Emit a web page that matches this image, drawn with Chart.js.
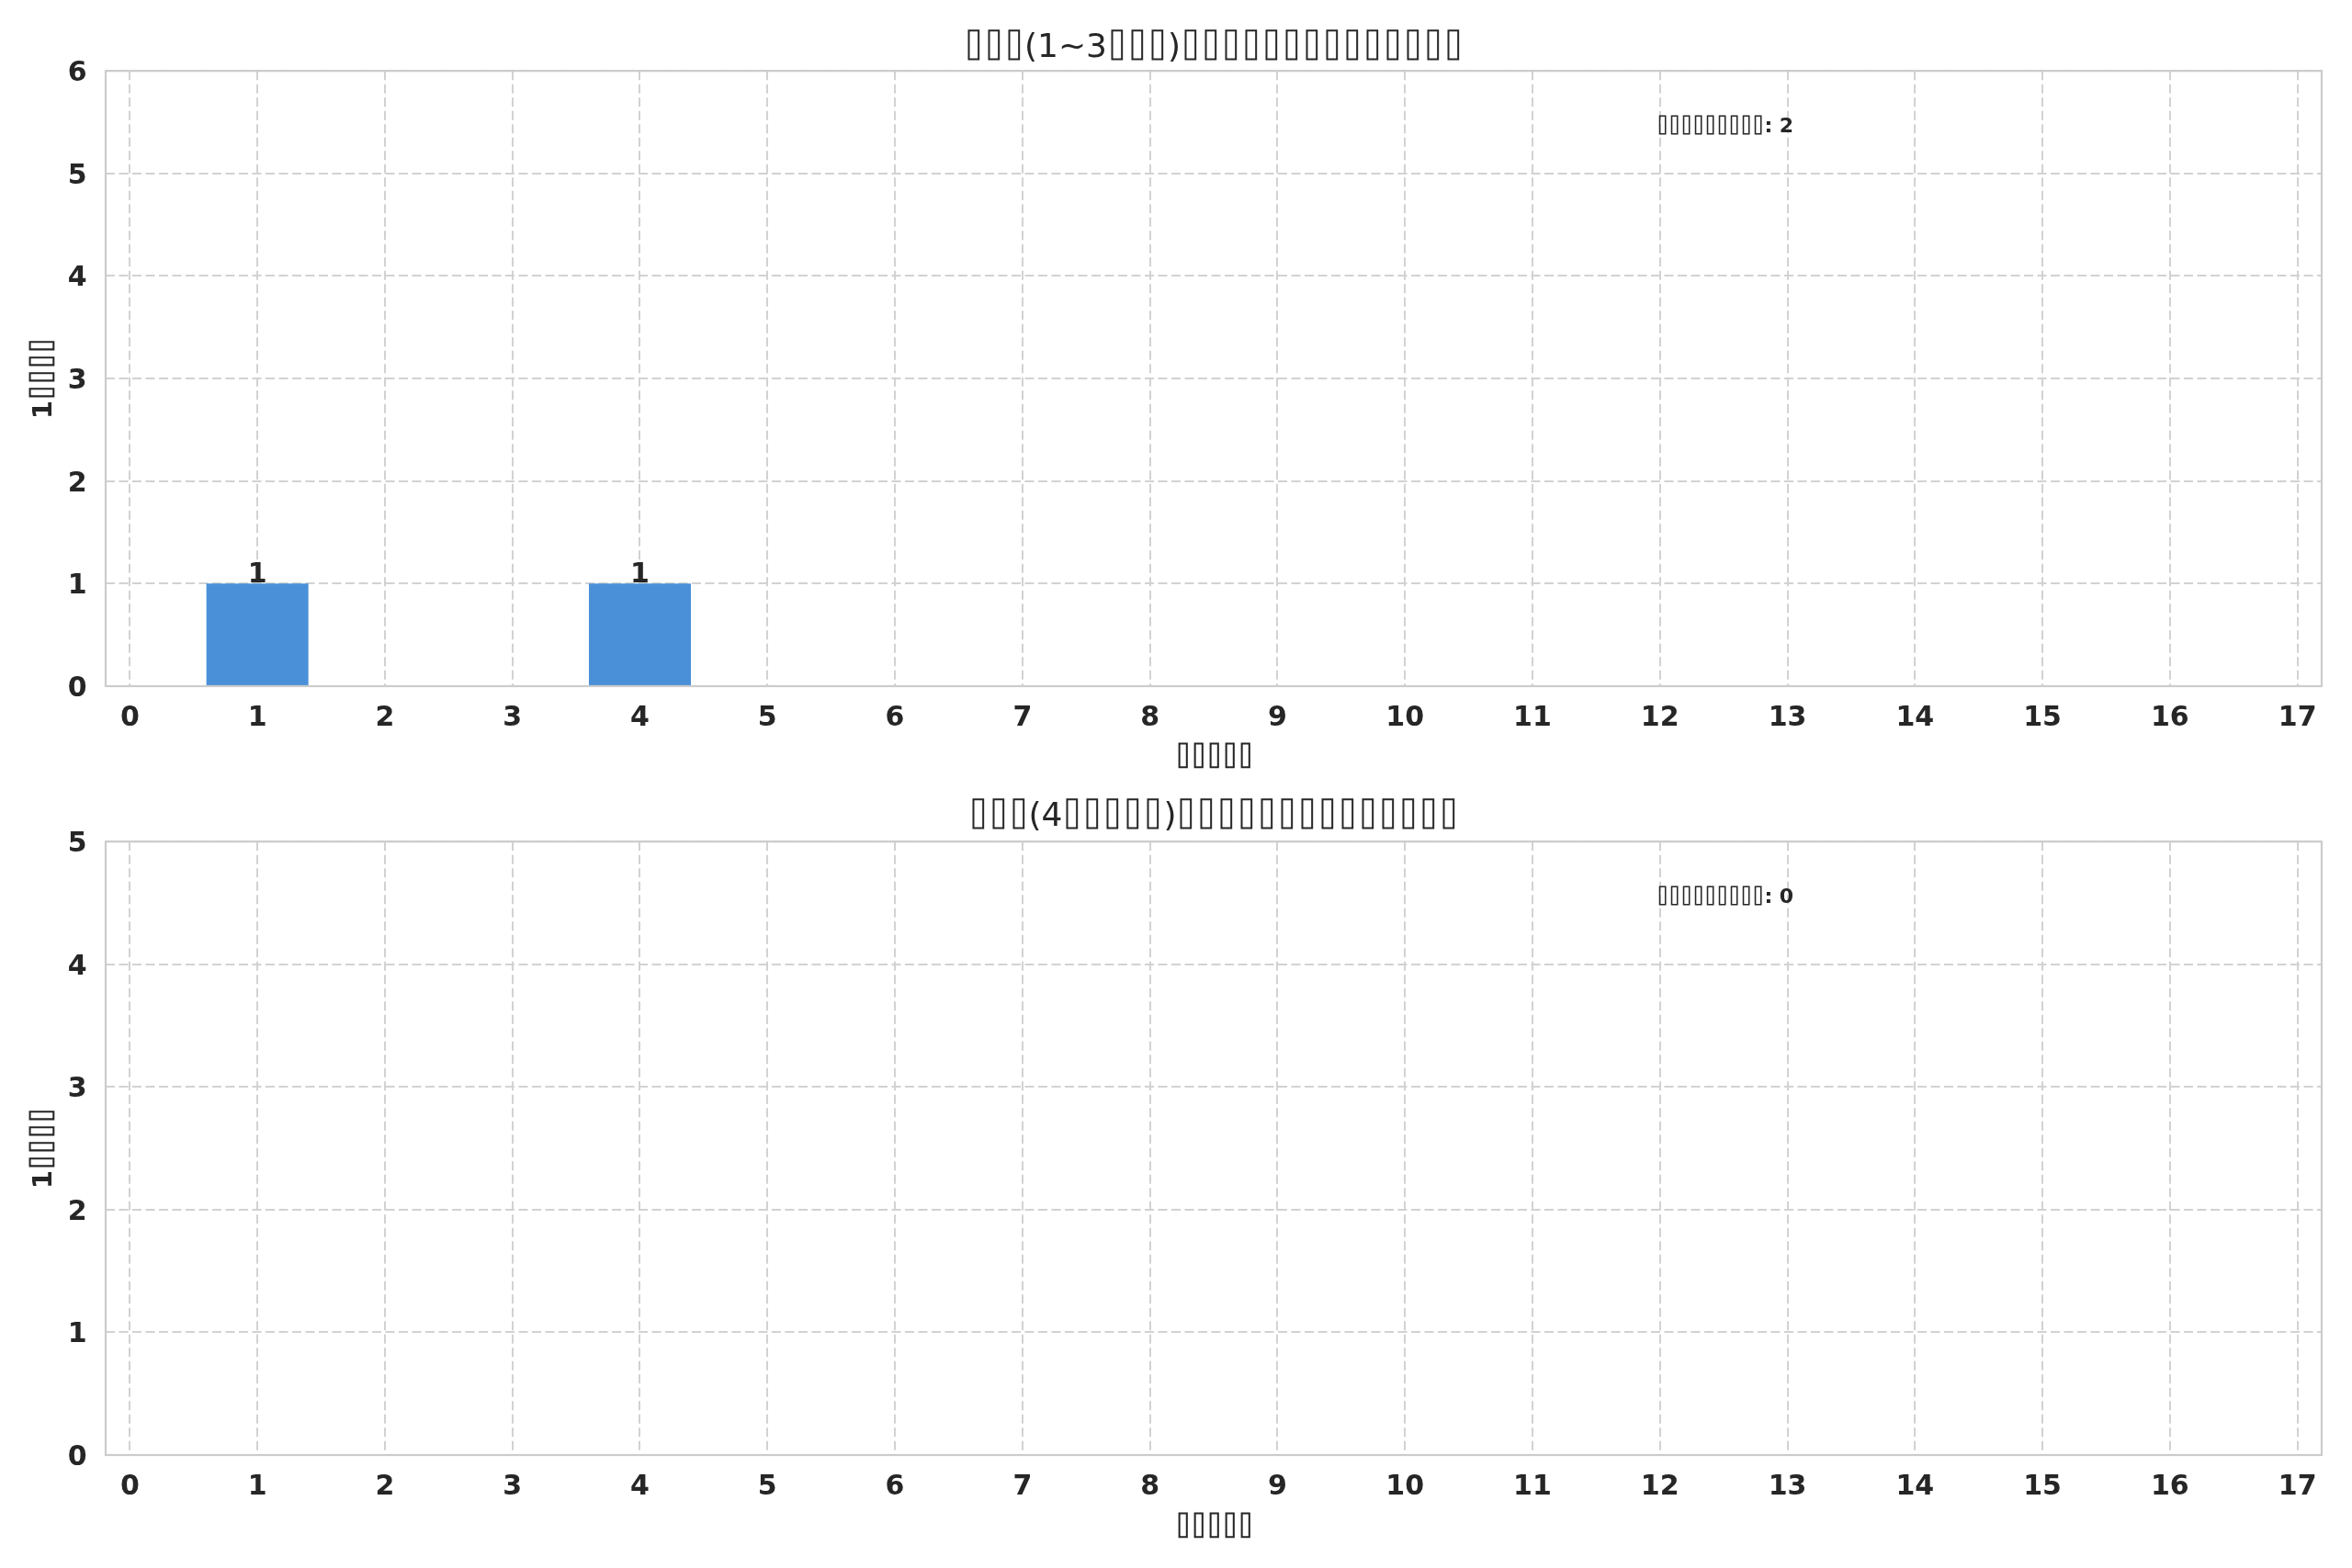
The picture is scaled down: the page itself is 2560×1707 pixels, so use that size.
<!DOCTYPE html>
<html>
<head>
<meta charset="utf-8">
<script src="https://cdn.jsdelivr.net/npm/chart.js@4.4.1/dist/chart.umd.min.js"></script>
<style>
  /* narrow box glyph, close to the missing-glyph boxes in the reference */
  @font-face { font-family: "TofuBox"; src: local("DejaVu Sans Mono"), local("DejaVuSansMono"); font-weight: normal; unicode-range: U+2337; }
  @font-face { font-family: "TofuBox"; src: local("DejaVu Sans Mono Bold"), local("DejaVuSansMono-Bold"); font-weight: bold; unicode-range: U+2337; }
  html, body { margin: 0; padding: 0; background: #ffffff; }
  #wrap { position: relative; width: 2560px; height: 1707px; }
  canvas { position: absolute; left: 0; }
</style>
</head>
<body>
<div id="wrap">
  <canvas id="chartTop" width="2560" height="854" style="top:0"></canvas>
  <canvas id="chartBottom" width="2560" height="853" style="top:854px"></canvas>
</div>
<script>
// values (the original CJK text renders as missing-glyph boxes)
const xTicks = [0, 1, 2, 3, 4, 5, 6, 7, 8, 9, 10, 11, 12, 13, 14, 15, 16, 17];
const lowerCounts = [0, 1, 0, 0, 1, 0, 0, 0, 0, 0, 0, 0, 0, 0, 0, 0, 0, 0];
const upperCounts = [0, 0, 0, 0, 0, 0, 0, 0, 0, 0, 0, 0, 0, 0, 0, 0, 0, 0];
const lowerYTicks = [0, 1, 2, 3, 4, 5, 6];
const upperYTicks = [0, 1, 2, 3, 4, 5];

const lowerTitle = "⌷⌷⌷(1~3⌷⌷⌷)⌷⌷⌷⌷⌷⌷⌷⌷⌷⌷⌷⌷⌷⌷";
const upperTitle = "⌷⌷⌷(4⌷⌷⌷⌷⌷)⌷⌷⌷⌷⌷⌷⌷⌷⌷⌷⌷⌷⌷⌷";
const xLabel = "⌷⌷⌷⌷⌷";
const yLabel = "1⌷⌷⌷⌷";
const notePrefix = "⌷⌷⌷⌷⌷⌷⌷⌷⌷: ";

const FONT = "TofuBox, 'DejaVu Sans', sans-serif";
const INK = "#262626";
const GRID = "#d2d2d2";
const BAR = "#4a90d9";

Chart.defaults.font.family = FONT;
Chart.defaults.color = INK;

// frame, bar value labels and the total note
const extras = {
  id: "extras",
  afterDraw(chart, args, opts) {
    const { ctx, chartArea: a } = chart;
    const xs = chart.scales.x, ys = chart.scales.y;
    ctx.save();
    ctx.strokeStyle = "#cccccc";
    ctx.lineWidth = 2.2;
    ctx.strokeRect(a.left, a.top, a.right - a.left, a.bottom - a.top);

    ctx.fillStyle = INK;
    ctx.font = "bold 30px " + FONT;
    ctx.textAlign = "center";
    ctx.textBaseline = "alphabetic";
    opts.counts.forEach((c, i) => {
      if (c > 0) ctx.fillText(String(c), xs.getPixelForValue(xTicks[i]), ys.getPixelForValue(c) - 1);
    });

    const total = opts.counts.reduce((s, v) => s + v, 0);
    ctx.font = "bold 22px " + FONT;
    ctx.textAlign = "left";
    ctx.fillText(notePrefix + total, a.left + 0.7 * (a.right - a.left), a.bottom - 0.9 * (a.bottom - a.top));
    ctx.restore();
  }
};

function makeChart(id, counts, yTicks, title, t) {
  return new Chart(document.getElementById(id), {
    type: "bar",
    data: {
      datasets: [{
        data: xTicks.map((x, i) => ({ x: x, y: counts[i] })),
        backgroundColor: BAR,
        borderWidth: 0,
        categoryPercentage: 1.0,
        barPercentage: 0.8
      }]
    },
    options: {
      responsive: false,
      animation: false,
      devicePixelRatio: 1,
      layout: { padding: { top: 0, left: 0, right: 33, bottom: 0 } },
      plugins: {
        legend: { display: false },
        tooltip: { enabled: false },
        title: {
          display: true,
          fullSize: false,
          text: title,
          color: INK,
          font: { size: 36, weight: "normal", lineHeight: 1.2 },
          padding: { top: t.titleTop, bottom: t.titleBottom }
        },
        extras: { counts: counts }
      },
      scales: {
        x: {
          type: "linear",
          offset: false,
          min: -0.19,
          max: 17.19,
          afterBuildTicks: s => { s.ticks = xTicks.map(v => ({ value: v })); },
          afterFit: s => { s.height = t.xHeight; },
          grid: { color: GRID, lineWidth: 2, drawTicks: false, offset: false },
          border: { display: false, dash: [10, 4.5] },
          ticks: {
            padding: 17,
            color: INK,
            font: { size: 30, weight: "bold", lineHeight: 1.2 },
            callback: v => String(v)
          },
          title: {
            display: true,
            text: xLabel,
            color: INK,
            font: { size: 29, weight: "bold", lineHeight: 1.2 },
            padding: { top: 0, bottom: t.xTitleBottom }
          }
        },
        y: {
          min: yTicks[0],
          max: yTicks[yTicks.length - 1],
          afterBuildTicks: s => { s.ticks = yTicks.map(v => ({ value: v })); },
          afterFit: s => { s.width = 115; },
          grid: { color: GRID, lineWidth: 2, drawTicks: false },
          border: { display: false, dash: [10, 4.5] },
          ticks: {
            padding: 20.5,
            labelOffset: 3,
            color: INK,
            font: { size: 30, weight: "bold", lineHeight: 1.2 },
            callback: v => String(v)
          },
          title: {
            display: true,
            text: yLabel,
            color: INK,
            font: { size: 29, weight: "bold", lineHeight: 1.2 },
            padding: { top: 30.6, bottom: 0 }
          }
        }
      }
    },
    plugins: [extras]
  });
}

Promise.all([
  document.fonts.load("36px TofuBox", "⌷"),
  document.fonts.load("bold 30px TofuBox", "⌷")
]).catch(() => null).then(() => {
  makeChart("chartTop", lowerCounts, lowerYTicks, lowerTitle,
    { titleTop: 31, titleBottom: 3, xHeight: 107, xTitleBottom: 11.6 });
  makeChart("chartBottom", upperCounts, upperYTicks, upperTitle,
    { titleTop: 14, titleBottom: 5, xHeight: 123, xTitleBottom: 26.6 });
});
</script>
</body>
</html>
